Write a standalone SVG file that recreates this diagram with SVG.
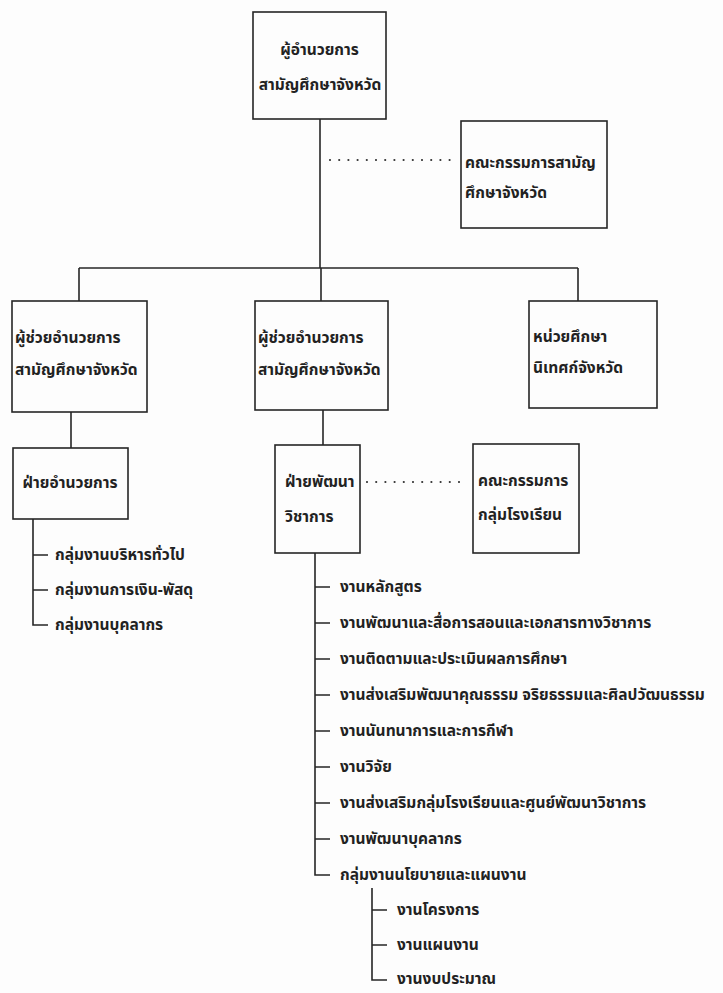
<svg xmlns="http://www.w3.org/2000/svg" width="723" height="993" viewBox="0 0 723 993">
<style>
.box{fill:none;stroke:#262626;stroke-width:1.6}
.ln{fill:none;stroke:#262626;stroke-width:1.6}
.dot{fill:none;stroke:#333;stroke-width:2.2;stroke-linecap:round;stroke-dasharray:0 9.2}
text{font-family:"Noto Sans Thai","Noto Sans","DejaVu Sans",sans-serif;font-size:15.5px;font-weight:bold;fill:#222}
.c{text-anchor:middle}
</style>
<rect width="723" height="993" fill="#fdfdfd"/>
<g id="connectors">
<line class="ln" x1="320" y1="119" x2="320" y2="268"/>
<line class="ln" x1="79" y1="268" x2="578" y2="268"/>
<line class="ln" x1="79" y1="268" x2="79" y2="301"/>
<line class="ln" x1="321" y1="268" x2="321" y2="301"/>
<line class="ln" x1="578" y1="268" x2="578" y2="301"/>
<line class="dot" x1="330" y1="160" x2="455" y2="160"/>
<line class="ln" x1="71" y1="412" x2="71" y2="448"/>
<line class="ln" x1="323" y1="410" x2="323" y2="445"/>
<line class="dot" x1="367" y1="482" x2="466" y2="482"/>
<path class="ln" d="M33 519V625H48M33 555H48M33 590H48"/>
<path class="ln" d="M315 553V875H330M315 587H330M315 623H330M315 659H330M315 695H330M315 731H330M315 767H330M315 803H330M315 839H330"/>
<path class="ln" d="M372 888V980H387M372 910H387M372 945H387"/>
</g>
<g id="n1"><rect class="box" x="253" y="12" width="133" height="107"/>
<text class="c" x="319.5" y="55">ผู้อำนวยการ</text>
<text class="c" x="320" y="90">สามัญศึกษาจังหวัด</text></g>
<g id="n2"><rect class="box" x="461" y="121" width="146" height="107"/>
<text x="465" y="168">คณะกรรมการสามัญ</text>
<text x="465" y="198">ศึกษาจังหวัด</text></g>
<g id="n3"><rect class="box" x="12" y="301" width="135" height="111"/>
<text x="15" y="343">ผู้ช่วยอำนวยการ</text>
<text x="15" y="375">สามัญศึกษาจังหวัด</text></g>
<g id="n4"><rect class="box" x="255" y="301" width="133" height="109"/>
<text x="258" y="343">ผู้ช่วยอำนวยการ</text>
<text x="258" y="375">สามัญศึกษาจังหวัด</text></g>
<g id="n5"><rect class="box" x="529" y="301" width="128" height="107"/>
<text x="533" y="342">หน่วยศึกษา</text>
<text x="533" y="373">นิเทศก์จังหวัด</text></g>
<g id="n6"><rect class="box" x="13" y="448" width="115" height="71"/>
<text class="c" x="70" y="488">ฝ่ายอำนวยการ</text></g>
<g id="n7"><rect class="box" x="275" y="445" width="85" height="108"/>
<text x="285" y="487">ฝ่ายพัฒนา</text>
<text x="285" y="522">วิชาการ</text></g>
<g id="n8"><rect class="box" x="473" y="444" width="106" height="109"/>
<text x="478" y="486">คณะกรรมการ</text>
<text x="478" y="520">กลุ่มโรงเรียน</text></g>
<g id="list-left">
<text x="55" y="560">กลุ่มงานบริหารทั่วไป</text>
<text x="55" y="595">กลุ่มงานการเงิน-พัสดุ</text>
<text x="55" y="630">กลุ่มงานบุคลากร</text>
</g>
<g id="list-mid">
<text x="340" y="592">งานหลักสูตร</text>
<text x="340" y="628">งานพัฒนาและสื่อการสอนและเอกสารทางวิชาการ</text>
<text x="340" y="664">งานติดตามและประเมินผลการศึกษา</text>
<text x="340" y="700">งานส่งเสริมพัฒนาคุณธรรม จริยธรรมและศิลปวัฒนธรรม</text>
<text x="340" y="736">งานนันทนาการและการกีฬา</text>
<text x="340" y="772">งานวิจัย</text>
<text x="340" y="808">งานส่งเสริมกลุ่มโรงเรียนและศูนย์พัฒนาวิชาการ</text>
<text x="340" y="844">งานพัฒนาบุคลากร</text>
<text x="340" y="880">กลุ่มงานนโยบายและแผนงาน</text>
<text x="397" y="915">งานโครงการ</text>
<text x="397" y="950">งานแผนงาน</text>
<text x="397" y="984">งานงบประมาณ</text>
</g>
</svg>
